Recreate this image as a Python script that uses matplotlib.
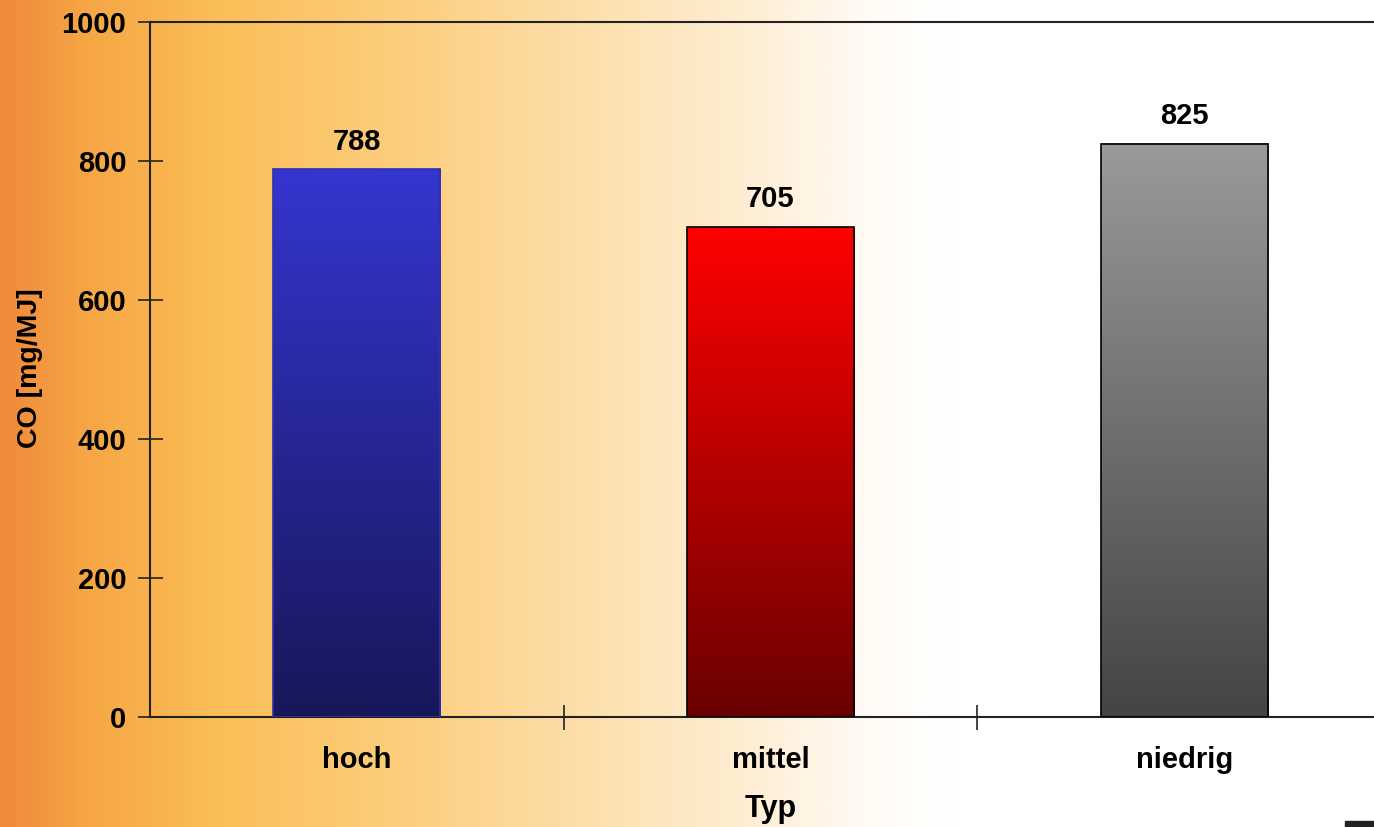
import matplotlib
matplotlib.use('Agg')
import matplotlib.pyplot as plt
import numpy as np
from matplotlib.colors import LinearSegmentedColormap

# data
categories = ['hoch', 'mittel', 'niedrig']
values = [788, 705, 825]
# gradient colours per bar (top, bottom)
bar_top = ['#3535d0', '#ff0000', '#9a9a9a']
bar_bottom = ['#17175a', '#6a0000', '#444444']
bar_edge = ['#3030b0', 'black', 'black']

plt.rcParams['font.family'] = ['Liberation Sans', 'DejaVu Sans']
plt.rcParams['font.weight'] = 'bold'

fig = plt.figure(figsize=(13.74, 8.27), dpi=100)

# background gradient (orange on the left fading to white)
bg = fig.add_axes([0, 0, 1, 1], zorder=0)
bg_cmap = LinearSegmentedColormap.from_list('bg', [
    (0.0, '#f08a3c'), (0.06, '#f6a645'), (0.15, '#fbbd55'),
    (0.30, '#fccf80'), (0.45, '#fde2b4'), (0.57, '#fff1dc'),
    (0.64, '#fffcf8'), (0.70, '#ffffff'), (1.0, '#ffffff')])
bg.imshow(np.linspace(0, 1, 500)[None, :], aspect='auto', cmap=bg_cmap,
          extent=[0, 1, 0, 1])
bg.axis('off')
# small dark mark at the bottom right corner
bg.add_patch(plt.Rectangle((1345 / 1374, 0), 29 / 1374, 6 / 827,
                           color='#222222', transform=bg.transAxes))

# plot area: left 150px, right ~1391px (past the edge), y 22..717
left = 150 / 1374
width = (1391 - 150) / 1374
bottom = (827 - 717) / 827
height = (717 - 22) / 827
ax = fig.add_axes([left, bottom, width, height], zorder=1)
ax.patch.set_alpha(0)

x = np.arange(len(categories))
bw = 0.404
bars = ax.bar(x, values, width=bw, color='none', edgecolor='none')
for i, b in enumerate(bars):
    cmap = LinearSegmentedColormap.from_list('b%d' % i, [bar_bottom[i], bar_top[i]])
    grad = np.linspace(0, 1, 256)[:, None]
    ax.imshow(grad, aspect='auto', cmap=cmap, origin='lower',
              extent=[b.get_x(), b.get_x() + bw, 0, values[i]], zorder=2)
    ax.add_patch(plt.Rectangle((b.get_x(), 0), bw, values[i], fill=False,
                               edgecolor=bar_edge[i], linewidth=1.2, zorder=3))
    ax.text(x[i], values[i] + 40, str(values[i]), ha='center', va='center',
            fontsize=21, fontweight='bold')

ax.set_xlim(-0.5, 2.5)
ax.set_ylim(0, 1000)
ax.set_yticks([0, 200, 400, 600, 800, 1000])
ax.set_xticks([0.5, 1.5])
ax.set_xticklabels([])
ax.tick_params(axis='both', direction='inout', length=18, width=1.2,
               labelsize=21, color='#222222')
ax.tick_params(axis='y', pad=8)
for lab in ax.get_yticklabels():
    lab.set_fontweight('bold')
for i, c in enumerate(categories):
    ax.text(x[i], -62, c, ha='center', va='center', fontsize=21, fontweight='bold')

for s in ['left', 'bottom', 'top']:
    ax.spines[s].set_linewidth(1.5)
    ax.spines[s].set_color('#222222')
ax.spines['right'].set_visible(False)

fig.text(30 / 1374, 1 - 368 / 827, 'CO [mg/MJ]', ha='center', va='center',
         rotation=90, fontsize=20.5, fontweight='bold')
fig.text(771 / 1374, 1 - 809 / 827, 'Typ', ha='center', va='center',
         fontsize=22, fontweight='bold')

fig.savefig('out.png', dpi=100)
